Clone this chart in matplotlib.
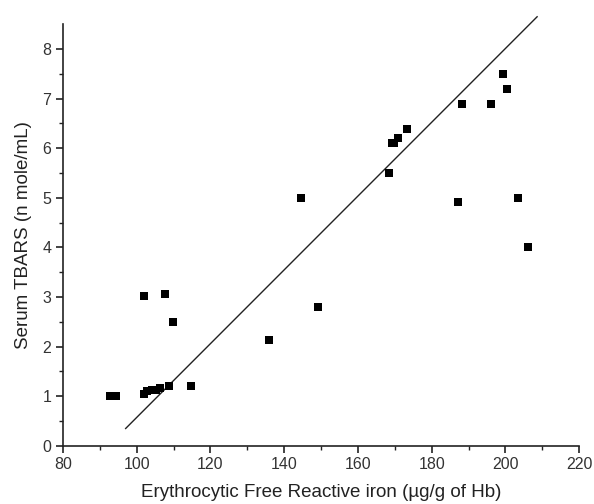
import matplotlib
matplotlib.use("Agg")
import matplotlib.pyplot as plt
import numpy as np

plt.rcParams['font.family'] = ['Liberation Sans', 'DejaVu Sans']

iron = [92.8, 93.6, 94.4, 102.0, 102.7, 104.1, 105.1, 106.3, 108.7, 114.6,
        102.0, 107.6, 109.8, 135.8, 144.6, 149.3, 168.4, 169.3, 169.9, 171.0,
        173.2, 187.2, 188.1, 196.0, 199.4, 200.4, 203.3, 206.2]
tbars = [1.0, 1.0, 1.0, 1.04, 1.1, 1.12, 1.13, 1.16, 1.2, 1.21,
         3.01, 3.05, 2.50, 2.13, 4.99, 2.80, 5.49, 6.10, 6.10, 6.20,
         6.39, 4.91, 6.90, 6.90, 7.49, 7.19, 4.99, 4.0]
fit_x = [97.0, 208.6]
fit_slope = 0.0744
fit_intercept = -6.87

fig = plt.figure(figsize=(5.94, 5.04), dpi=100)
ax = fig.add_axes([0.106, 0.1157, 0.869, 0.8363])

fx = np.array(fit_x)
ax.plot(fx, fit_slope * fx + fit_intercept, color='#222222', lw=1.0, clip_on=False)
ax.scatter(iron, tbars, marker='s', s=28, color='black', zorder=3, linewidths=0)

ax.set_xlim(80, 220)
ax.set_ylim(0, 8.5)
ax.set_xticks(np.arange(80, 221, 20))
ax.set_xticks(np.arange(90, 220, 20), minor=True)
ax.set_yticks(np.arange(0, 9, 1))
ax.set_yticks(np.arange(0.5, 8.5, 1), minor=True)

for s in ['top', 'right']:
    ax.spines[s].set_visible(False)
for s in ['left', 'bottom']:
    ax.spines[s].set_linewidth(1.2)
    ax.spines[s].set_color('#222222')

ax.tick_params(which='major', direction='out', length=5, width=1.2, colors='#222222',
               labelsize=11.5, labelcolor='#333333')
ax.tick_params(which='minor', direction='out', length=3, width=1.0, colors='#222222')

ax.set_xlabel('Erythrocytic Free Reactive iron (µg/g of Hb)', fontsize=13.5, color='#222222', labelpad=8)
ax.set_ylabel('Serum TBARS (n mole/mL)', fontsize=13.5, color='#222222', labelpad=7)

fig.savefig('out.png', dpi=100)
